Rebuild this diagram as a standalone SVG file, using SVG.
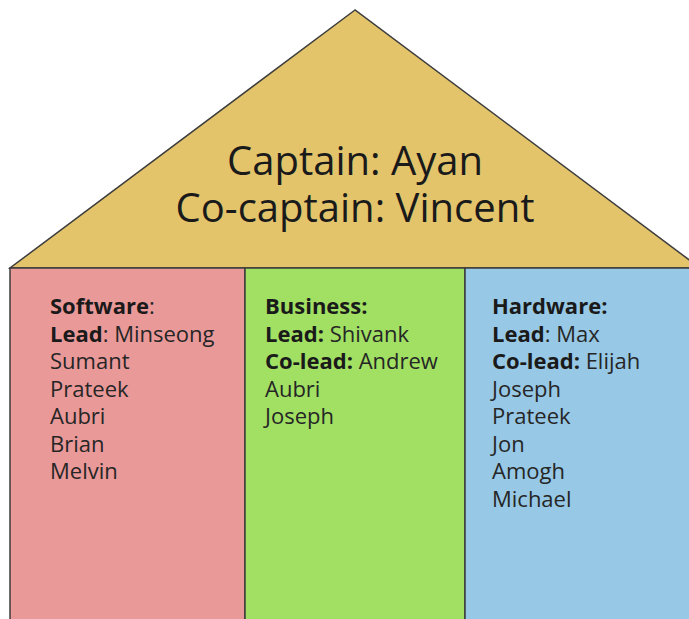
<svg xmlns="http://www.w3.org/2000/svg" width="689" height="619" viewBox="0 0 689 619">
  <style>
    .frame { stroke: #3d3d3d; stroke-width: 1.5; }
    .title { font-family: "Open Sans", "DejaVu Sans", sans-serif; font-size: 40px; fill: #1a1a1a; text-anchor: middle; }
    .list { font-family: "Open Sans", "DejaVu Sans", sans-serif; font-size: 22px; fill: #262626; }
    .b { font-weight: bold; fill: #1a1a1a; }
  </style>
  <rect width="689" height="619" fill="#ffffff"/>

  <!-- roof -->
  <g id="roof">
    <polygon class="frame" points="355,10 10,268 700,268" fill="#e3c46b"/>
    <text class="title" x="355" y="175">Captain: Ayan</text>
    <text class="title" x="355" y="222">Co-captain: Vincent</text>
  </g>

  <!-- software column -->
  <g id="software">
    <rect class="frame" x="10" y="268" width="235" height="360" fill="#ea9999"/>
    <text class="list" x="50" y="314"><tspan class="b">Software</tspan>:</text>
    <text class="list" x="50" y="342"><tspan class="b">Lead</tspan>: Minseong</text>
    <text class="list" x="50" y="369">Sumant</text>
    <text class="list" x="50" y="397">Prateek</text>
    <text class="list" x="50" y="424">Aubri</text>
    <text class="list" x="50" y="452">Brian</text>
    <text class="list" x="50" y="479">Melvin</text>
  </g>

  <!-- business column -->
  <g id="business">
    <rect class="frame" x="245" y="268" width="220" height="360" fill="#a1e063"/>
    <text class="list" x="265" y="314"><tspan class="b">Business:</tspan></text>
    <text class="list" x="265" y="342"><tspan class="b">Lead:</tspan> Shivank</text>
    <text class="list" x="265" y="369"><tspan class="b">Co-lead:</tspan> Andrew</text>
    <text class="list" x="265" y="397">Aubri</text>
    <text class="list" x="265" y="424">Joseph</text>
  </g>

  <!-- hardware column -->
  <g id="hardware">
    <rect class="frame" x="465" y="268" width="240" height="360" fill="#97c8e5"/>
    <text class="list" x="492" y="314"><tspan class="b">Hardware:</tspan></text>
    <text class="list" x="492" y="342"><tspan class="b">Lead</tspan>: Max</text>
    <text class="list" x="492" y="369"><tspan class="b">Co-lead:</tspan> Elijah</text>
    <text class="list" x="492" y="397">Joseph</text>
    <text class="list" x="492" y="424">Prateek</text>
    <text class="list" x="492" y="452">Jon</text>
    <text class="list" x="492" y="479">Amogh</text>
    <text class="list" x="492" y="507">Michael</text>
  </g>

  <g id="connectors"/>
</svg>
